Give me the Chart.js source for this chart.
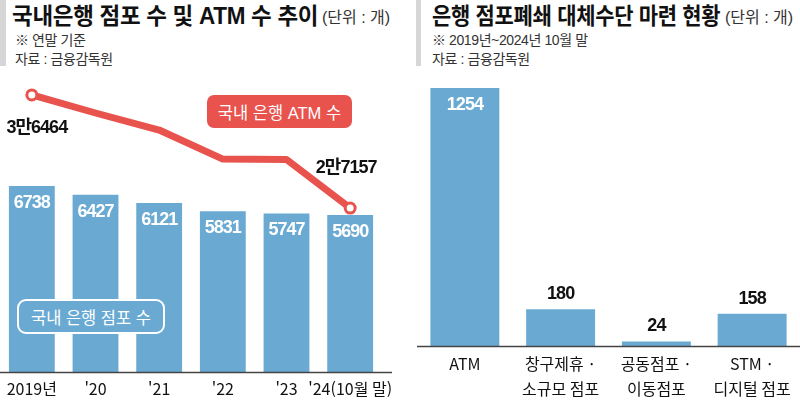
<!DOCTYPE html>
<html lang="ko">
<head>
<meta charset="UTF-8">
<title>국내은행 점포 수 및 ATM 수 추이</title>
<script src="https://cdn.jsdelivr.net/npm/chart.js"></script>
<style>
    body { margin: 0; background: #fff; }
    #wrap { position: relative; width: 800px; height: 400px; overflow: hidden;
        font-family: 'Liberation Sans', 'Noto Sans CJK KR', sans-serif; color: #111; }
    .abs { position: absolute; white-space: nowrap; }
    .mark { position: absolute; top: 0; width: 6px; height: 66px; background: #d6d6d6; }
    .title { font-size: 23px; font-weight: 700; line-height: 23px; transform-origin: 0 50%; letter-spacing: -0.3px; }
    .unit { font-size: 16px; line-height: 16px; color: #333; }
    .note { font-size: 14px; line-height: 14px; color: #333; letter-spacing: -0.4px; }
    .tag { position: absolute; color: #fff; font-size: 16.5px; display: flex; align-items: center; justify-content: center; box-sizing: border-box; }
    .chartbox { position: absolute; top: 70px; }
</style>
</head>
<body>
<div id="wrap">
    <!-- left panel -->
    <div class="mark" style="left:0"></div>
    <div class="abs title" id="t1" style="left:12px;top:5px">국내은행 점포 수 및 ATM 수 추이</div>
    <div class="abs unit" style="left:322px;top:10px">(단위 : 개)</div>
    <div class="abs note" style="left:15px;top:33px">※ 연말 기준</div>
    <div class="abs note" style="left:15px;top:52px">자료 : 금융감독원</div>

    <!-- right panel -->
    <div class="mark" style="left:416px;width:5px"></div>
    <div class="abs title" id="t2" style="left:432px;top:5px">은행 점포폐쇄 대체수단 마련 현황</div>
    <div class="abs unit" style="left:725px;top:10px">(단위 : 개)</div>
    <div class="abs note" style="left:432px;top:33px">※ 2019년~2024년 10월 말</div>
    <div class="abs note" style="left:432px;top:52px">자료 : 금융감독원</div>

    <div class="chartbox" style="left:-20px"><canvas id="branchChart" width="420" height="335"></canvas></div>
    <div class="chartbox" style="left:400px"><canvas id="altChart" width="400" height="337"></canvas></div>

    <div class="tag" style="left:207px;top:95px;width:145px;height:33px;border-radius:7px;background:#e8534e">국내 은행 ATM 수</div>
    <div class="tag" style="left:17px;top:299px;width:148px;height:35px;border-radius:9px;border:2px solid #fff;background:#6aaad2">국내 은행 점포 수</div>
</div>

<script>
    // data
    const years = ['2019년', "'20", "'21", "'22", "'23", "'24(10월 말)"];
    const branchCounts = [6738, 6427, 6121, 5831, 5747, 5690];
    const atmCounts = [36464, 34980, 33580, 31190, 31150, 27157];

    const altTypes = ['ATM', ['창구제휴 ·', '소규모 점포'], ['공동점포 ·', '이동점포'], ['STM ·', '디지털 점포']];
    const altCounts = [1254, 180, 24, 158];

    const BLUE = '#6aaad2';
    const RED = '#e8534e';
    const NUM_FONT = 'bold 18px "Liberation Sans", "Noto Sans CJK KR", sans-serif';

    Chart.defaults.font.family = "'Noto Sans CJK KR', 'Liberation Sans', sans-serif";
    Chart.defaults.color = '#111';

    // squeeze titles to the reference width
    function fitWidth(id, w) {
        const el = document.getElementById(id);
        el.style.transform = 'scaleX(' + (w / el.offsetWidth) + ')';
    }
    fitWidth('t1', 306);
    fitWidth('t2', 288);

    function man(v) {
        return Math.floor(v / 10000) + '만' + (v % 10000);
    }

    // bar value labels, white inside tall bars, dark above short ones
    const valueLabels = {
        id: 'valueLabels',
        afterDatasetsDraw(chart, args, opts) {
            const ctx = chart.ctx;
            chart.data.datasets.forEach((ds, di) => {
                const meta = chart.getDatasetMeta(di);
                if (meta.type !== 'bar') return;
                meta.data.forEach((bar, i) => {
                    const inside = ds.data[i] > opts.insideMin;
                    ctx.save();
                    ctx.font = NUM_FONT;
                    ctx.letterSpacing = '-1px';
                    ctx.fillStyle = inside ? '#fff' : '#111';
                    ctx.textAlign = 'center';
                    ctx.textBaseline = 'middle';
                    ctx.fillText(String(ds.data[i]), bar.x, inside ? bar.y + 17 : bar.y - 15);
                    ctx.restore();
                });
            });
        }
    };

    // first / last ATM labels
    const endLabels = {
        id: 'endLabels',
        afterDatasetsDraw(chart) {
            const meta = chart.getDatasetMeta(1);
            const ctx = chart.ctx;
            const first = meta.data[0];
            const last = meta.data[meta.data.length - 1];
            ctx.save();
            ctx.font = NUM_FONT;
            ctx.letterSpacing = '-1px';
            ctx.fillStyle = '#111';
            ctx.textAlign = 'center';
            ctx.textBaseline = 'middle';
            ctx.fillText(man(atmCounts[0]), first.x + 5, first.y + 33);
            ctx.fillText(man(atmCounts[atmCounts.length - 1]), last.x - 4, last.y - 40);
            ctx.restore();
        }
    };

    const baseline = {
        id: 'baseline',
        afterDatasetsDraw(chart, args, opts) {
            const { ctx, chartArea } = chart;
            ctx.save();
            ctx.strokeStyle = '#444';
            ctx.lineWidth = 1.5;
            ctx.beginPath();
            ctx.moveTo(opts.from ?? chartArea.left, chartArea.bottom);
            ctx.lineTo(opts.to ?? chartArea.right, chartArea.bottom);
            ctx.stroke();
            ctx.restore();
        }
    };

    function xAxis(lineHeight, padding) {
        return {
            grid: { display: false, drawTicks: false },
            border: { display: false },
            ticks: { color: '#111', font: { size: 16, lineHeight: lineHeight }, padding: padding, maxRotation: 0, autoSkip: false }
        };
    }

    new Chart(document.getElementById('branchChart'), {
        data: {
            labels: years,
            datasets: [{
                type: 'bar',
                data: branchCounts,
                backgroundColor: BLUE,
                barPercentage: 0.72,
                categoryPercentage: 1,
                yAxisID: 'y',
                order: 1
            }, {
                type: 'line',
                data: atmCounts,
                borderColor: RED,
                borderWidth: 7,
                borderJoinStyle: 'round',
                tension: 0,
                pointRadius: [5, 0, 0, 0, 0, 5],
                pointBackgroundColor: '#fff',
                pointBorderColor: RED,
                pointBorderWidth: 3,
                yAxisID: 'y2',
                order: 0
            }]
        },
        options: {
            responsive: false,
            animation: false,
            layout: { padding: { top: 12, right: 18, left: 20, bottom: 0 } },
            plugins: {
                legend: { display: false },
                tooltip: { enabled: false },
                valueLabels: { insideMin: 0 },
                baseline: { from: 20, to: 412 }
            },
            scales: {
                x: xAxis(1.35, 5.5),
                y: { display: false, min: 0, max: 10500 },
                y2: { display: false, min: 13640, max: 37530 }
            }
        },
        plugins: [valueLabels, endLabels, baseline]
    });

    new Chart(document.getElementById('altChart'), {
        type: 'bar',
        data: {
            labels: altTypes,
            datasets: [{
                data: altCounts,
                backgroundColor: BLUE,
                barPercentage: 0.72,
                categoryPercentage: 1
            }]
        },
        options: {
            responsive: false,
            animation: false,
            layout: { padding: { top: 10, right: 0, left: 17, bottom: 0 } },
            plugins: {
                legend: { display: false },
                tooltip: { enabled: false },
                valueLabels: { insideMin: 500 },
                baseline: {}
            },
            scales: {
                x: xAxis(1.55, 5.5),
                y: { display: false, min: 0, max: 1293 }
            }
        },
        plugins: [valueLabels, baseline]
    });
</script>
</body>
</html>
